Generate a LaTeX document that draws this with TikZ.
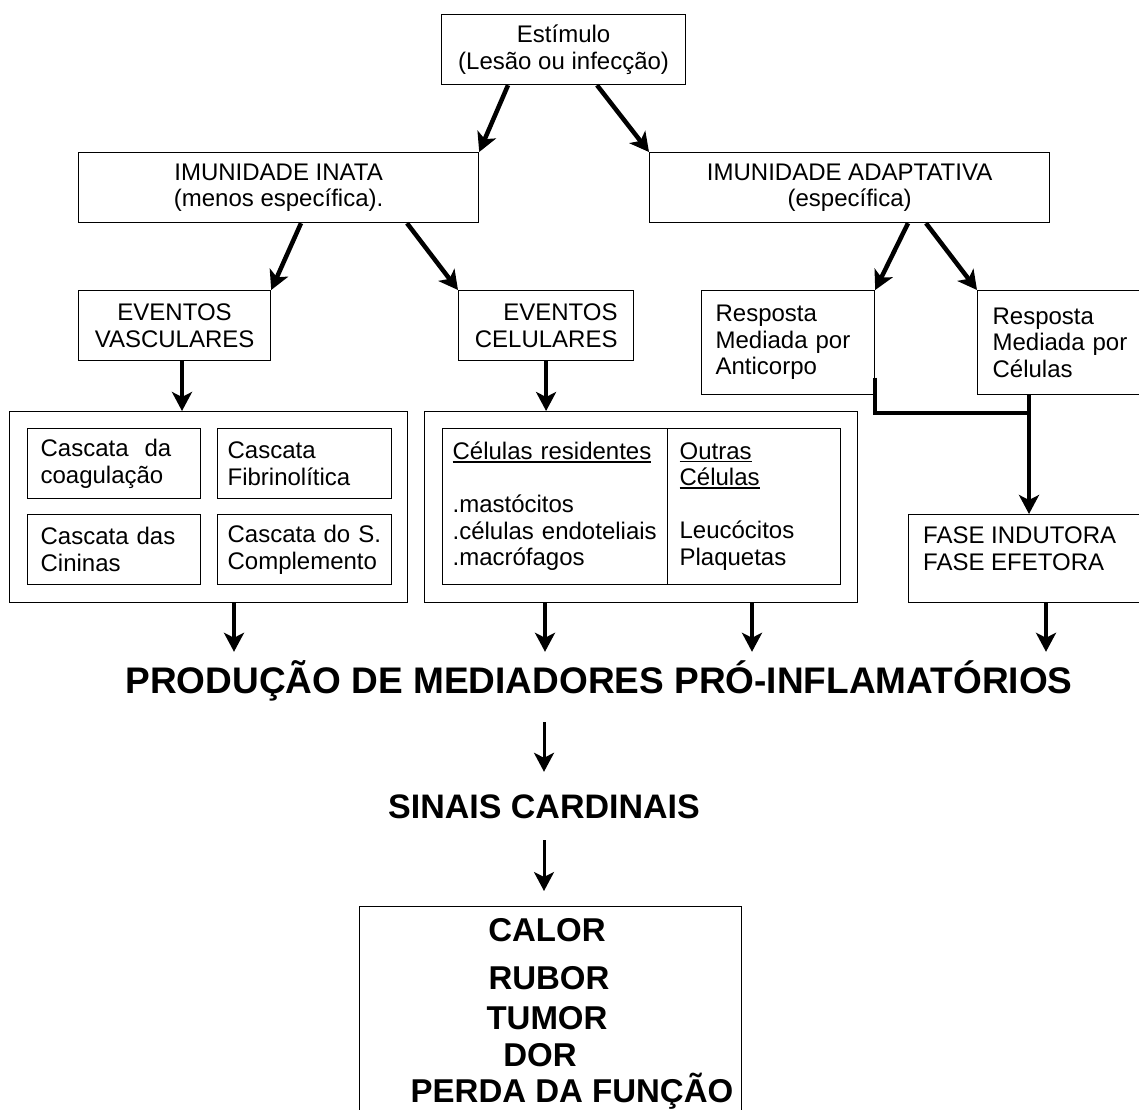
\documentclass[tikz,border=0pt]{standalone}
\usepackage{fontspec}
\setmainfont{Liberation Sans}
\usetikzlibrary{arrows.meta}
\newcommand\undl[1]{\leavevmode\setbox0\hbox{#1}\rlap{\rule[-3pt]{\wd0}{1.8pt}}\box0}
\begin{document}
\begin{tikzpicture}[x=1pt,y=-1pt,
  box/.style={draw=black, line width=1.2pt, inner sep=0pt, anchor=north west,
    font=\fontsize{24}{26.5}\selectfont},
  arr/.style={line width=4.5pt, -{Stealth[length=19pt,width=20pt,inset=5pt]}},
  arrthin/.style={line width=3pt, -{Stealth[length=19pt,width=20pt,inset=5pt]}},
  conn/.style={line width=4.5pt},
  txt/.style={inner sep=0pt, font=\fontsize{24}{26.5}\selectfont},
  bigtxt/.style={inner sep=0pt, anchor=base, font=\fontsize{33}{36}\selectfont\bfseries},
]
\fill[white] (0,0) rectangle (1139,1109);
\useasboundingbox (0,0) rectangle (1139,1109);
\clip (0,0) rectangle (1139,1109);

% top
\node[box, minimum width=244pt, minimum height=70pt, align=center] (estim) at (441,14)
  {Estímulo\\(Lesão ou infecção)};
\node[box, minimum width=400pt, minimum height=70pt, align=center] (inata) at (78,152)
  {IMUNIDADE INATA\\(menos específica).};
\node[box, minimum width=400pt, minimum height=70pt, align=center] (adapt) at (649,152)
  {IMUNIDADE ADAPTATIVA\\(específica)};

% second row
\node[box, minimum width=192pt, minimum height=70pt, align=center] (vasc) at (78,290)
  {EVENTOS\\VASCULARES};
\node[box, minimum width=175pt, minimum height=70pt, align=right, text width=143pt] (celev) at (458,290)
  {EVENTOS\\CELULARES};
\node[box, minimum width=173pt, minimum height=104pt, align=left, text width=145pt] (anti) at (701,290)
  {Resposta\\Mediada por\\Anticorpo};
\node[box, minimum width=172pt, minimum height=104pt, align=left, text width=142pt] (cells) at (977,290)
  {Resposta\\Mediada por\\Células};

% left group
\node[box, minimum width=398pt, minimum height=191pt] (leftbox) at (9,411) {};
\node[box, minimum width=173pt, minimum height=70pt, align=left, text width=147pt] (c1) at (27,428)
  {Cascata\ \ da\\coagulação};
\node[box, minimum width=174pt, minimum height=70pt, align=left, text width=154pt] (c2) at (217,428)
  {Cascata\\Fibrinolítica};
\node[box, minimum width=173pt, minimum height=70pt, align=left, text width=147pt] (c3) at (27,514)
  {Cascata das\\Cininas};
\node[box, minimum width=174pt, minimum height=70pt, align=left, text width=154pt] (c4) at (217,514)
  {Cascata do S.\\Complemento};

% middle group
\node[box, minimum width=433pt, minimum height=191pt] (midbox) at (424,411) {};
\node[box, minimum width=225pt, minimum height=156pt, align=left, text width=205pt] (resid) at (442,428)
  {\undl{Células residentes}\\\mbox{}\\.mastócitos\\.células endoteliais\\.macrófagos};
\node[box, minimum width=173pt, minimum height=156pt, align=left, text width=149pt] (outras) at (667,428)
  {\undl{Outras}\\\undl{Células}\\\mbox{}\\Leucócitos\\Plaquetas};

% fase
\node[box, minimum width=240pt, minimum height=88pt] (fase) at (908,514) {};
\node[txt, anchor=base west, align=left] (faseT) at (923,570) {FASE INDUTORA\\FASE EFETORA};

% headline and signs
\node[inner sep=0pt, anchor=base, text height=41pt, text depth=29pt,
  font=\fontsize{37}{40}\selectfont\bfseries] (prod) at (599,693)
  {PRODUÇÃO DE MEDIADORES PRÓ-INFLAMATÓRIOS};
\node[inner sep=0pt, anchor=base, text height=46pt, text depth=22pt,
  font=\fontsize{34}{38}\selectfont\bfseries] (sinais) at (544,818)
  {SINAIS CARDINAIS};

\node[box, minimum width=382pt, minimum height=215pt] (bottom) at (359,906) {};
\node[bigtxt] (calor) at (547,941) {CALOR};
\node[bigtxt] (rubor) at (549,989) {RUBOR};
\node[bigtxt] (tumor) at (547,1029) {TUMOR};
\node[bigtxt] (dor) at (540,1066) {DOR};
\node[bigtxt] (perda) at (572,1102) {PERDA DA FUNÇÃO};

% arrows
\draw[arr] ([xshift=67pt]estim.south west) -- (inata.north east);
\draw[arr] ([xshift=156pt]estim.south west) -- (adapt.north west);
\draw[arr] ([xshift=223pt]inata.south west) -- (vasc.north east);
\draw[arr] ([xshift=329pt]inata.south west) -- (celev.north west);
\draw[arr] ([xshift=259pt]adapt.south west) -- (anti.north east);
\draw[arr] ([xshift=277pt]adapt.south west) -- (cells.north west);

\coordinate (v1) at ([xshift=104pt]vasc.south west);
\draw[arr] (v1) -- (v1 |- leftbox.north);
\draw[arr] (celev.south) -- (celev.south |- midbox.north);

\coordinate (astart) at ([yshift=-35pt]anti.east);
\coordinate (junc) at ([xshift=52pt,yshift=-18pt]cells.south west);
\draw[conn] (astart) |- (junc) -- (junc |- cells.south);
\draw[arr] (junc) -- (junc |- fase.north);

\coordinate (d1) at ([xshift=225pt]leftbox.south west);
\coordinate (d2) at ([xshift=121pt]midbox.south west);
\coordinate (d3) at ([xshift=328pt]midbox.south west);
\coordinate (d4) at ([xshift=138pt]fase.south west);
\draw[arr] (d1) -- (d1 |- prod.north);
\draw[arr] (d2) -- (d2 |- prod.north);
\draw[arr] (d3) -- (d3 |- prod.north);
\draw[arr] (d4) -- (d4 |- prod.north);

\coordinate (btip) at ([yshift=15pt]bottom.north);
\draw[arrthin] (prod.south -| sinais) -- (sinais.north);
\draw[arrthin] (sinais.south) -- (sinais.south |- btip);
\end{tikzpicture}
\end{document}
